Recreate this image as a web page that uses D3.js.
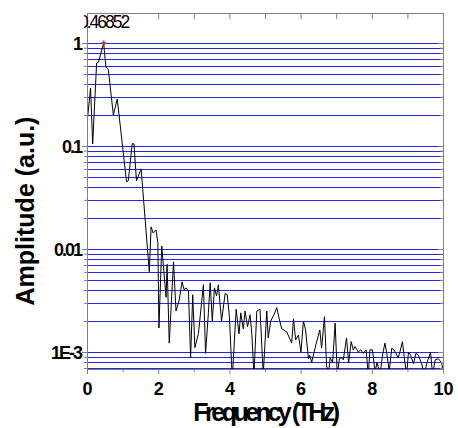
<!DOCTYPE html>
<html>
<head>
<meta charset="utf-8">
<script src="https://cdn.jsdelivr.net/npm/d3@7"></script>
<style>
  body { margin: 0; background: #fff; }
  text { font-family: Arial, "Liberation Sans", sans-serif; }
</style>
</head>
<body>
<div id="chart"></div>
<script>
// spectrum (THz, a.u.)
let freq = [0.00, 0.10, 0.16, 0.27, 0.32, 0.46852, 0.53, 0.60, 0.74, 0.85,
    1.11, 1.16, 1.27, 1.32, 1.39, 1.52, 1.75, 1.80, 1.86, 1.94,
    1.99, 2.02, 2.10, 2.22, 2.25, 2.31, 2.43, 2.50, 2.59, 2.67,
    2.73, 2.78, 2.85, 2.91, 2.97, 3.03, 3.13, 3.27, 3.33, 3.41,
    3.46, 3.52, 3.58, 3.64, 3.69, 3.78, 3.88, 3.94, 4.00, 4.08,
    4.19, 4.27, 4.32, 4.39, 4.44, 4.51, 4.58, 4.63, 4.69, 4.77,
    4.86, 4.95, 5.05, 5.09, 5.16, 5.25, 5.33, 5.40, 5.47, 5.61,
    5.75, 5.80, 5.86, 5.94, 6.01, 6.08, 6.14, 6.22, 6.26, 6.31,
    6.43, 6.54, 6.59, 6.67, 6.73, 6.78, 6.83, 6.90, 6.97, 7.03,
    7.09, 7.15, 7.20, 7.29, 7.35, 7.42, 7.48, 7.53, 7.62, 7.69,
    7.76, 7.84, 7.90, 7.95, 8.02, 8.09, 8.15, 8.23, 8.31, 8.37,
    8.42, 8.49, 8.56, 8.62, 8.68, 8.74, 8.79, 8.86, 8.93, 8.98,
    9.03, 9.09, 9.17, 9.24, 9.31, 9.40, 9.48, 9.54, 9.65, 9.71,
    9.78, 9.87, 9.96, 10.0];
let amp = [0.167, 0.366, 0.105, 0.64, 0.65, 1.0, 0.585, 0.55, 0.20, 0.286,
    0.045, 0.046, 0.105, 0.105, 0.046, 0.060, 0.0060, 0.0164, 0.0143, 0.0153,
    0.0115, 0.00171, 0.0107, 0.0034, 0.0071, 0.00122, 0.0075, 0.0025, 0.0032, 0.0048,
    0.0040, 0.0042, 0.0039, 0.00088, 0.0036, 0.0011, 0.00151, 0.0045, 0.00097, 0.0024,
    0.0047, 0.0020, 0.0042, 0.0035, 0.0045, 0.0020, 0.0037, 0.0036, 0.0022, 0.00055,
    0.0026, 0.0015, 0.0024, 0.00168, 0.0025, 0.00177, 0.0023, 0.0015, 0.0006, 0.0025,
    0.0026, 0.0006, 0.0025, 0.00137, 0.0020, 0.0023, 0.0027, 0.0021, 0.00168, 0.00157,
    0.00122, 0.0021, 0.00131, 0.00146, 0.0010, 0.0020, 0.00164, 0.00086, 0.00093, 0.00079,
    0.00118, 0.00164, 0.00109, 0.0022, 0.00074, 0.0006, 0.00088, 0.00079, 0.00191, 0.0006,
    0.00086, 0.00088, 0.00084, 0.00137, 0.00079, 0.00126, 0.00105, 0.00113, 0.0010, 0.00105,
    0.00097, 0.00105, 0.0006, 0.00105, 0.00105, 0.00065, 0.00079, 0.0006, 0.00097, 0.00122,
    0.00097, 0.00065, 0.00109, 0.00105, 0.00097, 0.00088, 0.0010, 0.00126, 0.00079, 0.0006,
    0.0010, 0.00093, 0.00077, 0.00097, 0.00093, 0.00077, 0.0006, 0.00077, 0.00099, 0.0006,
    0.00084, 0.00086, 0.00079, 0.00065];

let peakFreq = 0.46852;
let peakAmp = 1.0;

let xTicks = [0, 2, 4, 6, 8, 10];
let xMinorTicks = [1, 3, 5, 7, 9];
let yMajorTicks = [1e-3, 1e-2, 1e-1, 1];
let yTickLabels = ["1E-3", "0.01", "0.1", "1"];

// set the dimensions and margins of the graph
let W = 458, H = 428;
let margin = {top: 13, right: 15, bottom: 59, left: 87},
    width = W - margin.left - margin.right,
    height = H - margin.top - margin.bottom;

let x = d3.scaleLinear().domain([0, 10]).range([0, width]);
let y = d3.scaleLog().domain([6.84e-4, 1.956]).range([height, 0]);

let svg = d3.select("#chart").append("svg")
    .attr("width", W)
    .attr("height", H);

let g = svg.append("g")
    .attr("transform", "translate(" + margin.left + "," + margin.top + ")");

g.append("clipPath").attr("id", "plot")
    .append("rect").attr("width", width).attr("height", height);

// horizontal grid at every log tick
g.append("g")
    .selectAll("line")
    .data(y.ticks())
    .enter().append("line")
    .attr("x1", 0).attr("x2", width)
    .attr("y1", function(d) { return Math.round(y(d)) + 0.5; })
    .attr("y2", function(d) { return Math.round(y(d)) + 0.5; })
    .attr("stroke", "#2424e8")
    .attr("stroke-width", 1);

// the spectrum
let line = d3.line()
    .x(function(d, i) { return x(freq[i]); })
    .y(function(d) { return y(d); });

g.append("path")
    .datum(amp)
    .attr("clip-path", "url(#plot)")
    .attr("fill", "none")
    .attr("stroke", "#000")
    .attr("stroke-width", 1)
    .attr("d", line);

// peak marker
g.append("path")
    .attr("transform", "translate(" + x(peakFreq) + "," + y(peakAmp) + ")")
    .attr("d", d3.symbol().type(d3.symbolCross).size(14))
    .attr("fill", "#e8202a");

// peak label, clipped on the left
svg.append("clipPath").attr("id", "lbl")
    .append("rect").attr("x", 84).attr("y", 0).attr("width", 200).attr("height", 40);
svg.append("text")
    .attr("clip-path", "url(#lbl)")
    .attr("x", 79).attr("y", 28)
    .attr("font-size", "17.5px")
    .attr("letter-spacing", "-2px")
    .text(String(peakFreq));

// axes
function styleAxis(sel) {
    sel.select(".domain").remove();
    sel.selectAll(".tick line").attr("stroke", "#808080");
    sel.selectAll("text")
        .attr("fill", "#000")
        .attr("font-size", "18px")
        .attr("font-weight", "bold")
        .attr("font-family", "Arial, 'Liberation Sans', sans-serif");
}

// left
g.append("g")
    .call(d3.axisLeft(y).tickValues(y.ticks()).tickSize(3).tickFormat(""))
    .call(styleAxis);
g.append("g")
    .call(d3.axisLeft(y).tickValues(yMajorTicks).tickSize(5).tickPadding(1)
        .tickFormat(function(d, i) { return yTickLabels[i]; }))
    .call(styleAxis)
    .selectAll("text").attr("letter-spacing", "-2px").attr("dy", "0.36em");

// right (inward)
g.append("g")
    .attr("transform", "translate(" + width + ",0)")
    .call(d3.axisLeft(y).tickValues(y.ticks()).tickSize(3).tickFormat(""))
    .call(styleAxis);
g.append("g")
    .attr("transform", "translate(" + width + ",0)")
    .call(d3.axisLeft(y).tickValues(yMajorTicks).tickSize(5).tickFormat(""))
    .call(styleAxis);

// bottom
g.append("g")
    .attr("transform", "translate(0," + height + ")")
    .call(d3.axisBottom(x).tickValues(xMinorTicks).tickSize(3).tickFormat(""))
    .call(styleAxis);
g.append("g")
    .attr("transform", "translate(0," + height + ")")
    .call(d3.axisBottom(x).tickValues(xTicks).tickSize(5).tickPadding(8).tickFormat(d3.format("d")))
    .call(styleAxis);

// top (inward)
g.append("g")
    .call(d3.axisBottom(x).tickValues(xTicks.concat(xMinorTicks)).tickSize(6).tickFormat(""))
    .call(styleAxis);

// frame
g.append("rect")
    .attr("x", 0.5).attr("y", 0.5)
    .attr("width", width).attr("height", height)
    .attr("fill", "none")
    .attr("stroke", "#808080");

// axis titles
svg.append("text")
    .attr("transform", "translate(34," + (margin.top + height / 2 + 20) + ") rotate(-90)")
    .attr("text-anchor", "middle")
    .attr("font-size", "25px")
    .attr("font-weight", "bold")
    .text("Amplitude (a.u.)");

svg.append("text")
    .attr("x", margin.left + width / 2)
    .attr("y", 421)
    .attr("text-anchor", "middle")
    .attr("font-size", "25px")
    .attr("font-weight", "bold")
    .attr("letter-spacing", "-3.5px")
    .text("Frequency (THz)");
</script>
</body>
</html>
